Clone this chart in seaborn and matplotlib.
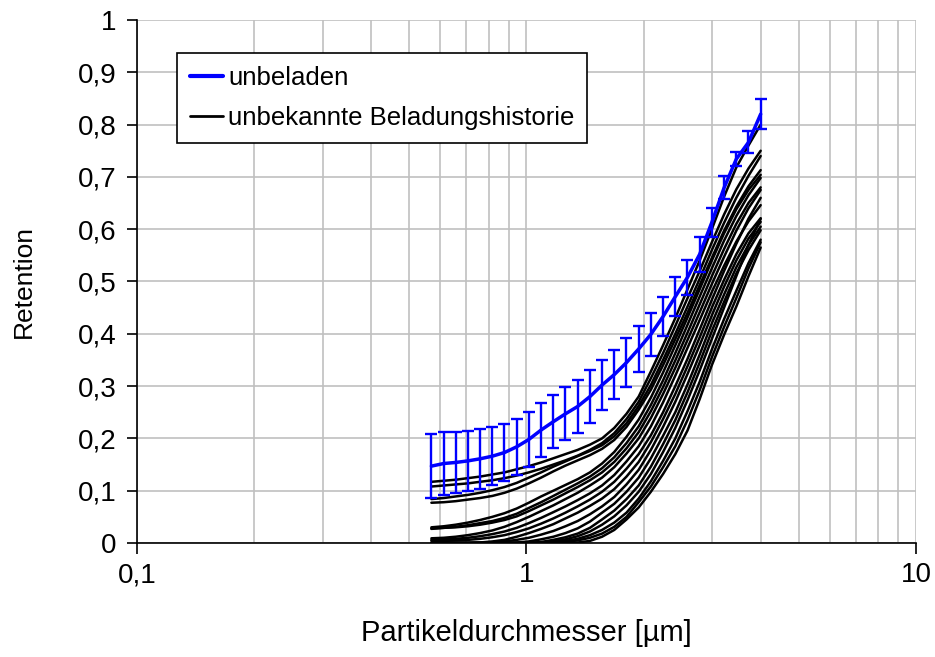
import matplotlib
matplotlib.use("Agg")
import matplotlib.pyplot as plt
import numpy as np
import pandas as pd
import seaborn as sns
from matplotlib.lines import Line2D
from matplotlib.ticker import FixedLocator, FuncFormatter, LogLocator, NullFormatter

# Particle size channels [µm]
diameter = [0.570, 0.613, 0.658, 0.707, 0.760, 0.817, 0.878, 0.944, 1.014, 1.090,
            1.172, 1.259, 1.353, 1.455, 1.563, 1.680, 1.806, 1.941, 2.086, 2.242,
            2.410, 2.590, 2.783, 2.991, 3.215, 3.456, 3.714, 3.992]

# Unloaded filter: mean retention and error bar half-widths
unbeladen = [0.147, 0.152, 0.154, 0.157, 0.161, 0.166, 0.173, 0.184, 0.198, 0.216,
             0.232, 0.247, 0.261, 0.280, 0.302, 0.322, 0.345, 0.371, 0.399, 0.433,
             0.471, 0.508, 0.552, 0.613, 0.679, 0.734, 0.766, 0.820]
unbeladen_err = [0.061, 0.060, 0.059, 0.058, 0.057, 0.056, 0.055, 0.054, 0.053, 0.051,
                 0.051, 0.051, 0.051, 0.050, 0.048, 0.047, 0.047, 0.044, 0.041, 0.037,
                 0.037, 0.034, 0.033, 0.027, 0.022, 0.014, 0.021, 0.028]

# Filters with unknown loading history
hist_01 = [0.117, 0.119, 0.121, 0.124, 0.127, 0.131, 0.135, 0.141, 0.147, 0.154,
           0.162, 0.170, 0.178, 0.188, 0.200, 0.220, 0.247, 0.280, 0.328, 0.378,
           0.430, 0.485, 0.540, 0.600, 0.662, 0.718, 0.760, 0.800]
hist_02 = [0.108, 0.110, 0.112, 0.114, 0.117, 0.120, 0.124, 0.129, 0.135, 0.142,
           0.150, 0.158, 0.167, 0.178, 0.191, 0.210, 0.237, 0.270, 0.315, 0.363,
           0.415, 0.468, 0.520, 0.575, 0.628, 0.676, 0.716, 0.750]
hist_03 = [0.084, 0.086, 0.089, 0.092, 0.096, 0.101, 0.107, 0.115, 0.125, 0.135,
           0.146, 0.156, 0.166, 0.176, 0.187, 0.204, 0.229, 0.262, 0.302, 0.350,
           0.400, 0.452, 0.505, 0.560, 0.612, 0.660, 0.702, 0.740]
hist_04 = [0.077, 0.078, 0.080, 0.083, 0.086, 0.090, 0.096, 0.104, 0.114, 0.125,
           0.137, 0.148, 0.158, 0.168, 0.180, 0.197, 0.222, 0.255, 0.293, 0.340,
           0.390, 0.440, 0.493, 0.545, 0.597, 0.643, 0.682, 0.713]
hist_05 = [0.030, 0.032, 0.035, 0.039, 0.044, 0.050, 0.057, 0.066, 0.077, 0.089,
           0.100, 0.111, 0.122, 0.135, 0.152, 0.174, 0.203, 0.236, 0.278, 0.326,
           0.378, 0.431, 0.485, 0.540, 0.592, 0.638, 0.675, 0.704]
hist_06 = [0.027, 0.029, 0.031, 0.034, 0.038, 0.042, 0.048, 0.056, 0.067, 0.078,
           0.090, 0.102, 0.114, 0.127, 0.143, 0.164, 0.191, 0.223, 0.264, 0.311,
           0.363, 0.417, 0.471, 0.525, 0.578, 0.625, 0.665, 0.698]
hist_07 = [0.028, 0.029, 0.030, 0.032, 0.035, 0.039, 0.044, 0.051, 0.061, 0.072,
           0.083, 0.095, 0.107, 0.120, 0.135, 0.155, 0.181, 0.212, 0.252, 0.298,
           0.349, 0.402, 0.456, 0.510, 0.562, 0.610, 0.650, 0.680]
hist_08 = [0.009, 0.010, 0.012, 0.015, 0.019, 0.024, 0.031, 0.040, 0.050, 0.061,
           0.072, 0.084, 0.096, 0.110, 0.125, 0.145, 0.171, 0.200, 0.239, 0.285,
           0.335, 0.388, 0.441, 0.495, 0.547, 0.597, 0.640, 0.675]
hist_09 = [0.006, 0.007, 0.008, 0.010, 0.013, 0.017, 0.022, 0.029, 0.038, 0.048,
           0.059, 0.070, 0.082, 0.095, 0.110, 0.130, 0.156, 0.185, 0.223, 0.269,
           0.320, 0.373, 0.426, 0.480, 0.530, 0.576, 0.615, 0.646]
hist_10 = [0.004, 0.004, 0.005, 0.006, 0.008, 0.011, 0.015, 0.021, 0.028, 0.037,
           0.047, 0.058, 0.070, 0.083, 0.098, 0.117, 0.142, 0.170, 0.206, 0.250,
           0.300, 0.352, 0.408, 0.465, 0.520, 0.572, 0.620, 0.660]
hist_11 = [0.000, 0.000, 0.000, 0.000, 0.001, 0.003, 0.006, 0.012, 0.019, 0.027,
           0.036, 0.047, 0.058, 0.071, 0.085, 0.103, 0.127, 0.155, 0.193, 0.237,
           0.285, 0.338, 0.393, 0.450, 0.503, 0.552, 0.592, 0.621]
hist_12 = [0.000, 0.000, 0.000, 0.000, 0.000, 0.001, 0.003, 0.006, 0.010, 0.016,
           0.023, 0.032, 0.042, 0.055, 0.070, 0.088, 0.112, 0.140, 0.178, 0.222,
           0.270, 0.323, 0.378, 0.435, 0.490, 0.540, 0.582, 0.614]
hist_13 = [0.000, 0.000, 0.000, 0.000, 0.000, 0.000, 0.000, 0.001, 0.003, 0.007,
           0.012, 0.019, 0.028, 0.041, 0.058, 0.075, 0.098, 0.125, 0.162, 0.205,
           0.250, 0.303, 0.360, 0.420, 0.475, 0.527, 0.570, 0.605]
hist_14 = [0.000, 0.000, 0.000, 0.000, 0.000, 0.000, 0.000, 0.000, 0.000, 0.002,
           0.006, 0.011, 0.018, 0.029, 0.045, 0.062, 0.084, 0.110, 0.146, 0.189,
           0.235, 0.288, 0.345, 0.405, 0.461, 0.515, 0.560, 0.598]
hist_15 = [0.000, 0.000, 0.000, 0.000, 0.000, 0.000, 0.000, 0.000, 0.000, 0.001,
           0.003, 0.007, 0.013, 0.022, 0.035, 0.051, 0.072, 0.098, 0.132, 0.174,
           0.220, 0.273, 0.330, 0.390, 0.450, 0.510, 0.570, 0.620]
hist_16 = [0.000, 0.000, 0.000, 0.000, 0.000, 0.000, 0.000, 0.000, 0.000, 0.000,
           0.001, 0.004, 0.008, 0.015, 0.025, 0.039, 0.058, 0.085, 0.118, 0.157,
           0.200, 0.252, 0.308, 0.370, 0.428, 0.482, 0.535, 0.580]
hist_17 = [0.000, 0.000, 0.000, 0.000, 0.000, 0.000, 0.000, 0.000, 0.000, 0.000,
           0.000, 0.002, 0.005, 0.010, 0.018, 0.031, 0.050, 0.078, 0.108, 0.145,
           0.185, 0.235, 0.292, 0.355, 0.413, 0.468, 0.525, 0.575]
hist_18 = [0.000, 0.000, 0.000, 0.000, 0.000, 0.000, 0.000, 0.000, 0.000, 0.000,
           0.000, 0.000, 0.001, 0.004, 0.012, 0.025, 0.045, 0.068, 0.098, 0.132,
           0.170, 0.215, 0.275, 0.340, 0.398, 0.452, 0.510, 0.565]

historie = [hist_01, hist_02, hist_03, hist_04, hist_05, hist_06, hist_07, hist_08,
            hist_09, hist_10, hist_11, hist_12, hist_13, hist_14, hist_15, hist_16,
            hist_17, hist_18]

y_ticks = [0.0, 0.1, 0.2, 0.3, 0.4, 0.5, 0.6, 0.7, 0.8, 0.9, 1.0]
x_ticks = [0.1, 1, 10]
x_tick_labels = ["0,1", "1", "10"]

label_unbeladen = "unbeladen"
label_historie = "unbekannte Beladungshistorie"

# Long-form table for the unknown-history curves
df_hist = pd.DataFrame({
    "Partikeldurchmesser": np.tile(diameter, len(historie)),
    "Retention": np.concatenate(historie),
    "Filter": np.repeat(np.arange(len(historie)), len(diameter)),
})

sns.set_theme(style="white")
plt.rcParams["font.family"] = ["Liberation Sans", "DejaVu Sans"]
plt.rcParams["text.color"] = "black"
plt.rcParams["axes.labelcolor"] = "black"

fig = plt.figure(figsize=(9.35, 6.57), dpi=100)
ax = fig.add_axes([0.1465, 0.1735, 0.8332, 0.7961])
ax.set_xscale("log")

grid_color = "#c0c0c0"

sns.lineplot(data=df_hist, x="Partikeldurchmesser", y="Retention", units="Filter",
             estimator=None, color="black", linewidth=1.8, legend=False, ax=ax,
             zorder=3)

sns.lineplot(x=diameter, y=unbeladen, color="#0000ff", linewidth=2.5, ax=ax,
             legend=False, zorder=5)
ax.errorbar(diameter, unbeladen, yerr=unbeladen_err, fmt="none", ecolor="#0000ff",
            elinewidth=1.7, capsize=4, capthick=1.7, zorder=6)

ax.set_xlim(0.1, 10)
ax.set_ylim(0, 1)

ax.xaxis.set_major_locator(FixedLocator(x_ticks))
ax.xaxis.set_major_formatter(FuncFormatter(
    lambda v, p: x_tick_labels[x_ticks.index(v)] if v in x_ticks else ""))
ax.xaxis.set_minor_locator(LogLocator(base=10, subs=np.arange(2, 10)))
ax.xaxis.set_minor_formatter(NullFormatter())

ax.yaxis.set_major_locator(FixedLocator(y_ticks))


def de_format(v, pos):
    if abs(v) < 1e-9:
        return "0"
    if abs(v - 1) < 1e-9:
        return "1"
    return f"{v:.1f}".replace(".", ",")


ax.yaxis.set_major_formatter(FuncFormatter(de_format))

ax.grid(True, which="major", axis="both", color=grid_color, linewidth=1.2)
ax.grid(True, which="minor", axis="x", color=grid_color, linewidth=1.2)
ax.set_axisbelow(True)

for side in ["top", "right"]:
    ax.spines[side].set_visible(False)
for side in ["left", "bottom"]:
    ax.spines[side].set_color("black")
    ax.spines[side].set_linewidth(1.2)
    ax.spines[side].set_zorder(7)

ax.tick_params(axis="y", which="major", direction="out", length=7, width=1.2,
               color="black", left=True, labelsize=20, pad=8, labelcolor="black")
ax.tick_params(axis="x", which="major", direction="out", length=8, width=1.2,
               color="black", bottom=True, labelsize=20, pad=6, labelcolor="black")
ax.tick_params(axis="x", which="minor", length=0)

ax.set_xlabel("Partikeldurchmesser [µm]", fontsize=21, labelpad=22, color="black")
ax.set_ylabel("Retention", fontsize=19, labelpad=30, color="black")

handles = [
    Line2D([0], [0], color="#0000ff", linewidth=3),
    Line2D([0], [0], color="black", linewidth=2),
]
leg = ax.legend(handles, [label_unbeladen, label_historie], loc="upper left",
                bbox_to_anchor=(0.051, 0.937), fontsize=18.5, frameon=True,
                fancybox=False, framealpha=1, edgecolor="black",
                handlelength=1.3, handletextpad=0.2, borderpad=0.5,
                labelspacing=0.65, borderaxespad=0, labelcolor="black")
leg.get_frame().set_linewidth(1.2)
leg.set_zorder(10)

fig.savefig("out.png", dpi=100, facecolor="white")
